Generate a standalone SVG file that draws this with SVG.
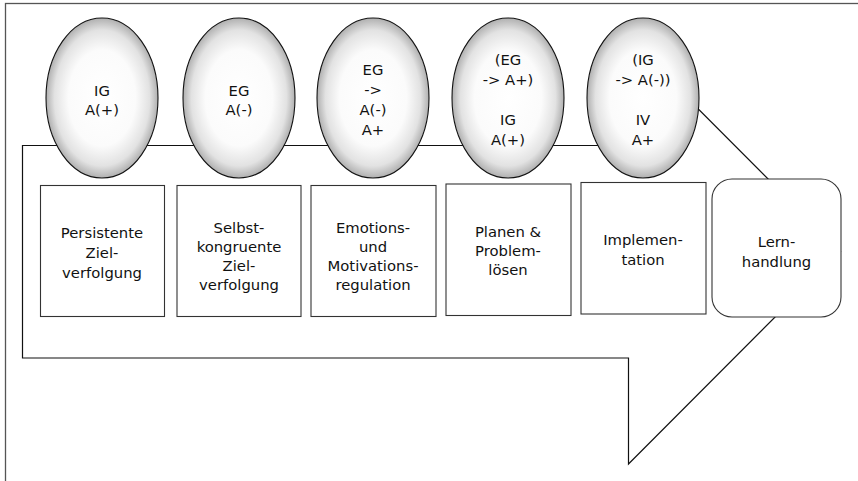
<svg xmlns="http://www.w3.org/2000/svg" width="858" height="481" viewBox="0 0 858 481">
<defs>
<radialGradient id="eggFill" cx="0.5" cy="0.5" r="0.5">
<stop offset="0" stop-color="#ffffff"/>
<stop offset="0.6" stop-color="#fbfbfb"/>
<stop offset="0.85" stop-color="#e2e2e2"/>
<stop offset="1" stop-color="#b0b0b0"/>
</radialGradient>
</defs>
<style>
.frame{fill:#ffffff;stroke:#555555;stroke-width:1.3}
.arrow{fill:#ffffff;stroke:#111111;stroke-width:1.2}
.egg{fill:url(#eggFill);stroke:#111111;stroke-width:1.1}
.box{fill:#ffffff;stroke:#333333;stroke-width:1.1}
text{font-family:"DejaVu Sans","Liberation Sans",sans-serif;font-size:14.8px;fill:#111111;text-anchor:middle}
</style>
<rect class="frame" x="5.5" y="3.5" width="900" height="600"/>
<g id="connectors">
<polygon class="arrow" points="22.5,145.5 628.5,145.5 628.5,39 840.5,251.5 628.5,464 628.5,358 22.5,358"/>
</g>
<g id="egg1">
<ellipse class="egg" cx="102" cy="98" rx="56" ry="80"/>
<text x="102" y="96">IG</text>
<text x="102" y="115">A(+)</text>
</g>
<g id="egg2">
<ellipse class="egg" cx="239" cy="98" rx="56" ry="80"/>
<text x="239" y="96">EG</text>
<text x="239" y="115">A(-)</text>
</g>
<g id="egg3">
<ellipse class="egg" cx="373" cy="98" rx="56" ry="80"/>
<text x="373" y="75">EG</text>
<text x="373" y="95">-&gt;</text>
<text x="373" y="115">A(-)</text>
<text x="373" y="135">A+</text>
</g>
<g id="egg4">
<ellipse class="egg" cx="508" cy="98" rx="56" ry="80"/>
<text x="508" y="65">(EG</text>
<text x="508" y="85">-&gt; A+)</text>
<text x="508" y="125">IG</text>
<text x="508" y="145">A(+)</text>
</g>
<g id="egg5">
<ellipse class="egg" cx="643" cy="98" rx="56" ry="80"/>
<text x="643" y="65">(IG</text>
<text x="643" y="85">-&gt; A(-))</text>
<text x="643" y="125">IV</text>
<text x="643" y="145">A+</text>
</g>
<g id="box1">
<rect class="box" x="40.5" y="185.5" width="124" height="131"/>
<text x="102" y="238">Persistente</text>
<text x="102" y="258">Ziel-</text>
<text x="102" y="278">verfolgung</text>
</g>
<g id="box2">
<rect class="box" x="177" y="185.5" width="124" height="131"/>
<text x="239" y="233">Selbst-</text>
<text x="239" y="252">kongruente</text>
<text x="239" y="271">Ziel-</text>
<text x="239" y="290">verfolgung</text>
</g>
<g id="box3">
<rect class="box" x="311" y="185.5" width="125" height="131"/>
<text x="373" y="233">Emotions-</text>
<text x="373" y="252">und</text>
<text x="373" y="271">Motivations-</text>
<text x="373" y="290">regulation</text>
</g>
<g id="box4">
<rect class="box" x="446" y="184" width="125" height="131.5"/>
<text x="508" y="237">Planen &amp;</text>
<text x="508" y="256">Problem-</text>
<text x="508" y="275">lösen</text>
</g>
<g id="box5">
<rect class="box" x="581" y="182.5" width="125" height="131.5"/>
<text x="643" y="245">Implemen-</text>
<text x="643" y="265">tation</text>
</g>
<g id="box6">
<rect class="box" x="712" y="179" width="129" height="138" rx="20" ry="20"/>
<text x="776.5" y="247">Lern-</text>
<text x="776.5" y="267">handlung</text>
</g>
</svg>
